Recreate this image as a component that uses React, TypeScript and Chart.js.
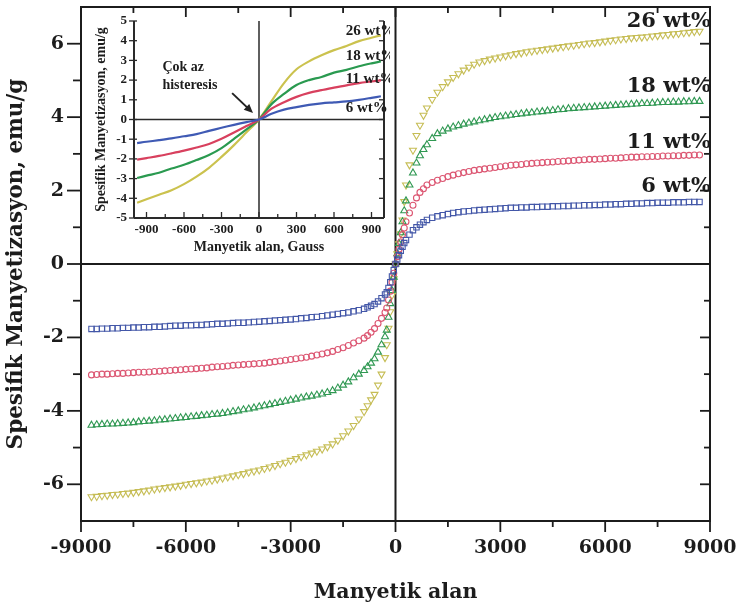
import React, { useEffect, useRef } from 'react';
import { Chart, registerables } from 'chart.js';

Chart.register(...registerables);

// ---------- main chart data (field in Gauss, magnetization in emu/g) ----------
const FIELD = [
  -8700, -8550, -8400, -8250, -8100, -7950, -7800, -7650, -7500, -7350,
  -7200, -7050, -6900, -6750, -6600, -6450, -6300, -6150, -6000, -5850,
  -5700, -5550, -5400, -5250, -5100, -4950, -4800, -4650, -4500, -4350,
  -4200, -4050, -3900, -3750, -3600, -3450, -3300, -3150, -3000, -2850,
  -2700, -2550, -2400, -2250, -2100, -1950, -1800, -1650, -1500, -1350, -1200,
  -1050, -900, -800, -700, -600, -500, -400, -300, -250, -200, -150, -100, -50,
  0,
  50, 100, 150, 200, 250, 300, 400, 500, 600, 700, 800, 900, 1050,
  1200, 1350, 1500, 1650, 1800, 1950, 2100, 2250, 2400, 2550,
  2700, 2850, 3000, 3150, 3300, 3450, 3600, 3750, 3900, 4050,
  4200, 4350, 4500, 4650, 4800, 4950, 5100, 5250, 5400, 5550,
  5700, 5850, 6000, 6150, 6300, 6450, 6600, 6750, 6900, 7050,
  7200, 7350, 7500, 7650, 7800, 7950, 8100, 8250, 8400, 8550, 8700,
];

const M6 = [
  -1.77, -1.77, -1.76, -1.76, -1.75, -1.75, -1.74, -1.74, -1.73, -1.73,
  -1.72, -1.72, -1.71, -1.71, -1.70, -1.69, -1.68, -1.68, -1.67, -1.67,
  -1.66, -1.66, -1.65, -1.64, -1.63, -1.63, -1.62, -1.61, -1.60, -1.60,
  -1.59, -1.58, -1.57, -1.56, -1.55, -1.54, -1.53, -1.52, -1.51, -1.50,
  -1.48, -1.47, -1.45, -1.44, -1.42, -1.40, -1.38, -1.36, -1.34, -1.32, -1.29,
  -1.26, -1.22, -1.18, -1.14, -1.09, -1.02, -0.93, -0.83, -0.77, -0.65, -0.50, -0.34, -0.17,
  0,
  0.12, 0.24, 0.36, 0.47, 0.57, 0.65, 0.80, 0.92, 1.00, 1.07, 1.14, 1.20, 1.26,
  1.30, 1.33, 1.36, 1.39, 1.41, 1.43, 1.44, 1.46, 1.47, 1.48,
  1.49, 1.50, 1.51, 1.52, 1.53, 1.53, 1.54, 1.54, 1.55, 1.55,
  1.56, 1.56, 1.57, 1.57, 1.58, 1.58, 1.59, 1.59, 1.60, 1.60,
  1.61, 1.61, 1.62, 1.62, 1.63, 1.63, 1.64, 1.64, 1.65, 1.65,
  1.66, 1.66, 1.67, 1.67, 1.67, 1.68, 1.68, 1.68, 1.69, 1.69, 1.69,
];

const M11 = [
  -3.02, -3.01, -3.00, -3.00, -2.99, -2.98, -2.98, -2.97, -2.96, -2.95,
  -2.95, -2.94, -2.93, -2.92, -2.91, -2.90, -2.89, -2.88, -2.87, -2.86,
  -2.85, -2.84, -2.83, -2.81, -2.80, -2.79, -2.78, -2.76, -2.75, -2.74,
  -2.73, -2.72, -2.71, -2.70, -2.68, -2.66, -2.64, -2.62, -2.60, -2.58,
  -2.56, -2.54, -2.51, -2.48, -2.45, -2.42, -2.38, -2.33, -2.28, -2.22, -2.15,
  -2.09, -2.02, -1.95, -1.86, -1.76, -1.62, -1.48, -1.32, -1.20, -0.98, -0.74, -0.50, -0.25,
  0,
  0.20, 0.40, 0.60, 0.80, 0.98, 1.15, 1.39, 1.60, 1.80, 1.95, 2.05, 2.15, 2.22,
  2.28, 2.33, 2.38, 2.42, 2.46, 2.49, 2.52, 2.55, 2.57, 2.59,
  2.61, 2.63, 2.65, 2.67, 2.69, 2.70, 2.71, 2.73, 2.74, 2.75,
  2.76, 2.77, 2.78, 2.79, 2.80, 2.81, 2.82, 2.83, 2.84, 2.85,
  2.85, 2.86, 2.87, 2.88, 2.88, 2.89, 2.90, 2.91, 2.91, 2.92,
  2.92, 2.93, 2.93, 2.94, 2.94, 2.95, 2.95, 2.96, 2.96, 2.97, 2.97,
];

const M18 = [
  -4.39, -4.38, -4.37, -4.36, -4.36, -4.35, -4.34, -4.33, -4.32, -4.30,
  -4.29, -4.28, -4.27, -4.25, -4.24, -4.22, -4.21, -4.19, -4.18, -4.16,
  -4.15, -4.13, -4.12, -4.10, -4.09, -4.07, -4.05, -4.02, -4.00, -3.97,
  -3.95, -3.92, -3.89, -3.86, -3.83, -3.80, -3.77, -3.74, -3.71, -3.68,
  -3.65, -3.62, -3.60, -3.57, -3.54, -3.50, -3.45, -3.38, -3.30, -3.21, -3.10,
  -3.00, -2.90, -2.80, -2.70, -2.58, -2.40, -2.20, -1.98, -1.80, -1.45, -1.08, -0.72, -0.36,
  0,
  0.28, 0.56, 0.85, 1.15, 1.45, 1.72, 2.15, 2.48, 2.75, 2.95, 3.12, 3.25, 3.42,
  3.55, 3.62, 3.68, 3.73, 3.77, 3.81, 3.84, 3.87, 3.90, 3.93,
  3.96, 3.99, 4.01, 4.03, 4.05, 4.07, 4.09, 4.11, 4.12, 4.14,
  4.15, 4.17, 4.18, 4.20, 4.21, 4.23, 4.24, 4.25, 4.26, 4.27,
  4.28, 4.29, 4.30, 4.31, 4.32, 4.33, 4.34, 4.35, 4.36, 4.37,
  4.37, 4.38, 4.39, 4.40, 4.40, 4.41, 4.41, 4.42, 4.42, 4.43, 4.43,
];

const M26 = [
  -6.34, -6.33, -6.31, -6.30, -6.28, -6.27, -6.25, -6.24, -6.22, -6.20,
  -6.18, -6.16, -6.13, -6.11, -6.09, -6.07, -6.05, -6.03, -6.00, -5.98,
  -5.96, -5.94, -5.91, -5.89, -5.86, -5.83, -5.80, -5.77, -5.74, -5.71,
  -5.67, -5.64, -5.61, -5.57, -5.53, -5.49, -5.44, -5.40, -5.35, -5.30,
  -5.25, -5.20, -5.15, -5.10, -5.04, -4.98, -4.90, -4.80, -4.68, -4.55, -4.40,
  -4.22, -4.02, -3.86, -3.70, -3.55, -3.30, -3.00, -2.55, -2.20, -1.75, -1.30, -0.85, -0.40,
  0,
  0.28, 0.55, 0.82, 1.20, 1.70, 2.15, 2.70, 3.10, 3.50, 3.78, 4.05, 4.25, 4.48,
  4.68, 4.83, 4.96, 5.08, 5.18, 5.28, 5.36, 5.44, 5.50, 5.54,
  5.58, 5.61, 5.64, 5.67, 5.70, 5.73, 5.75, 5.78, 5.80, 5.82,
  5.84, 5.86, 5.88, 5.90, 5.92, 5.94, 5.96, 5.98, 6.00, 6.02,
  6.03, 6.05, 6.07, 6.09, 6.11, 6.13, 6.14, 6.16, 6.17, 6.18,
  6.19, 6.21, 6.22, 6.24, 6.25, 6.27, 6.28, 6.30, 6.31, 6.33, 6.34,
];

const SERIES_NAMES = ['6 wt%', '11 wt%', '18 wt%', '26 wt%'];

const X_TICKS = [-9000, -6000, -3000, 0, 3000, 6000, 9000];
const X_MINOR = [-9000, -7500, -6000, -4500, -3000, -1500, 0, 1500, 3000, 4500, 6000, 7500, 9000];
const Y_TICKS = [-6, -4, -2, 0, 2, 4, 6];
const Y_MINOR = [-6, -5, -4, -3, -2, -1, 0, 1, 2, 3, 4, 5, 6];

// ---------- inset data ----------
const INSET_FIELD = [-975, -900, -800, -700, -600, -500, -400, -300, -200, -100, 0, 100, 200, 300, 400, 500, 600, 700, 800, 900, 975];
const I6 = [-1.20, -1.13, -1.05, -0.96, -0.85, -0.74, -0.58, -0.42, -0.27, -0.13, 0, 0.29, 0.50, 0.63, 0.74, 0.82, 0.87, 0.92, 1.00, 1.10, 1.18];
const I11 = [-2.04, -1.96, -1.85, -1.72, -1.58, -1.42, -1.24, -0.98, -0.66, -0.33, 0, 0.55, 0.88, 1.15, 1.35, 1.49, 1.62, 1.73, 1.85, 1.93, 1.99];
const I18 = [-2.97, -2.85, -2.70, -2.49, -2.30, -2.06, -1.80, -1.45, -0.98, -0.50, 0, 0.78, 1.30, 1.75, 2.00, 2.16, 2.38, 2.52, 2.70, 2.85, 2.95];
const I26 = [-4.23, -4.05, -3.82, -3.59, -3.28, -2.90, -2.45, -1.90, -1.30, -0.65, 0, 0.93, 1.85, 2.55, 2.95, 3.26, 3.52, 3.73, 3.98, 4.15, 4.27];

const INSET_X_TICKS = [-900, -600, -300, 0, 300, 600, 900];
const INSET_X_MINOR = [-900, -750, -600, -450, -300, -150, 0, 150, 300, 450, 600, 750, 900];
const INSET_Y_TICKS = [-5, -4, -3, -2, -1, 0, 1, 2, 3, 4, 5];

const NOTE_LINES = ['Çok az', 'histeresis'];

// ---------- styles ----------
const INK = '#1c1c1c';
const COLORS = ['#4357a8', '#dc5672', '#2f9852', '#c6bd55'];
const INSET_COLORS = ['#3f5ab4', '#d8405e', '#2a9a50', '#cbc24e'];
const MAIN_FONT = 'DejaVu Serif';
const INSET_FONT = 'Liberation Serif';

function line(ctx: CanvasRenderingContext2D, x1: number, y1: number, x2: number, y2: number) {
  ctx.beginPath();
  ctx.moveTo(x1, y1);
  ctx.lineTo(x2, y2);
  ctx.stroke();
}

function zeroPad(s: any) {
  s.paddingLeft = 0;
  s.paddingRight = 0;
  s.paddingTop = 0;
  s.paddingBottom = 0;
}

const mainDecor = {
  id: 'mainDecor',
  beforeDatasetsDraw(chart: any) {
    const { ctx, chartArea: a, scales } = chart;
    const x = scales.x, y = scales.y;
    ctx.save();
    ctx.strokeStyle = INK;
    ctx.lineWidth = 2;
    const x0 = x.getPixelForValue(0);
    const y0 = y.getPixelForValue(0);
    line(ctx, x0, a.top, x0, a.bottom);
    line(ctx, a.left, y0, a.right, y0);
    ctx.strokeRect(a.left, a.top, a.right - a.left, a.bottom - a.top);
    ctx.lineWidth = 1.8;
    for (const v of X_MINOR) {
      const px = x.getPixelForValue(v);
      const major = X_TICKS.includes(v);
      line(ctx, px, a.bottom, px, a.bottom + (major ? 11 : 6));
      line(ctx, px, a.top, px, a.top + (major ? 10 : 6));
    }
    for (const v of Y_MINOR) {
      const py = y.getPixelForValue(v);
      const major = Y_TICKS.includes(v);
      line(ctx, a.left - (major ? 14 : 8), py, a.left, py);
      line(ctx, a.right - (major ? 10 : 6), py, a.right, py);
    }
    ctx.restore();
  },
  afterDatasetsDraw(chart: any) {
    const { ctx, scales } = chart;
    const x = scales.x, y = scales.y;
    const anchorsY = [1.96, 3.16, 4.69, 6.46];
    ctx.save();
    ctx.fillStyle = INK;
    ctx.font = `bold 21px "${MAIN_FONT}"`;
    ctx.textAlign = 'right';
    ctx.textBaseline = 'alphabetic';
    SERIES_NAMES.forEach((name, i) => {
      ctx.fillText(name, x.getPixelForValue(9000) + 1, y.getPixelForValue(anchorsY[i]));
    });
    ctx.restore();
  },
};

const insetDecor = {
  id: 'insetDecor',
  beforeDatasetsDraw(chart: any) {
    const { ctx, chartArea: a, scales } = chart;
    const x = scales.x, y = scales.y;
    ctx.save();
    ctx.strokeStyle = '#2a2a2a';
    ctx.lineWidth = 1.5;
    const x0 = x.getPixelForValue(0);
    const y0 = y.getPixelForValue(0);
    line(ctx, x0, a.top, x0, a.bottom);
    line(ctx, a.left, y0, a.right, y0);
    ctx.lineWidth = 2;
    line(ctx, a.left, a.top, a.left, a.bottom);
    line(ctx, a.left, a.bottom, a.right, a.bottom);
    line(ctx, a.right, a.top, a.right, a.bottom);
    ctx.lineWidth = 1.3;
    for (const v of INSET_Y_TICKS) {
      const py = y.getPixelForValue(v);
      line(ctx, a.left - 5, py, a.left + 3, py);
      line(ctx, a.right - 5, py, a.right, py);
    }
    for (const v of INSET_X_MINOR) {
      const px = x.getPixelForValue(v);
      const major = INSET_X_TICKS.includes(v);
      line(ctx, px, a.bottom, px, a.bottom - (major ? 6 : 4));
    }
    ctx.restore();
  },
  afterDatasetsDraw(chart: any) {
    const { ctx, scales } = chart;
    const x = scales.x, y = scales.y;
    const anchorsY = [0.38, 1.85, 3.01, 4.28];
    ctx.save();
    ctx.fillStyle = INK;
    ctx.font = `bold 15px "${INSET_FONT}"`;
    ctx.textAlign = 'left';
    ctx.textBaseline = 'alphabetic';
    SERIES_NAMES.forEach((name, i) => {
      ctx.fillText(name, x.getPixelForValue(693), y.getPixelForValue(anchorsY[i]));
    });
    ctx.font = `bold 14px "${INSET_FONT}"`;
    ctx.fillText(NOTE_LINES[0], x.getPixelForValue(-773), y.getPixelForValue(2.46));
    ctx.fillText(NOTE_LINES[1], x.getPixelForValue(-773), y.getPixelForValue(1.54));
    const tx = x.getPixelForValue(-215), ty = y.getPixelForValue(1.34);
    const hx = x.getPixelForValue(-48), hy = y.getPixelForValue(0.33);
    const ang = Math.atan2(hy - ty, hx - tx);
    ctx.strokeStyle = '#222';
    ctx.lineWidth = 2;
    line(ctx, tx, ty, hx - 6 * Math.cos(ang), hy - 6 * Math.sin(ang));
    ctx.fillStyle = '#222';
    ctx.beginPath();
    ctx.moveTo(hx, hy);
    ctx.lineTo(hx - 9 * Math.cos(ang) + 4 * Math.sin(ang), hy - 9 * Math.sin(ang) - 4 * Math.cos(ang));
    ctx.lineTo(hx - 9 * Math.cos(ang) - 4 * Math.sin(ang), hy - 9 * Math.sin(ang) + 4 * Math.cos(ang));
    ctx.closePath();
    ctx.fill();
    ctx.restore();
  },
};

function mainConfig(): any {
  const seriesValues = [M6, M11, M18, M26];
  const styles = [
    { pointStyle: 'rect', radius: 3.8, rotation: 0 },
    { pointStyle: 'circle', radius: 3, rotation: 0 },
    { pointStyle: 'triangle', radius: 4, rotation: 0 },
    { pointStyle: 'triangle', radius: 4, rotation: 180 },
  ];
  const tickFont = { family: MAIN_FONT, weight: 'bold', size: 19 };
  const titleFont = { family: MAIN_FONT, weight: 'bold', size: 20.5 };
  const yTitleFont = { family: MAIN_FONT, weight: 'bold', size: 21.5 };
  return {
    type: 'scatter',
    data: {
      datasets: seriesValues.map((vals, i) => ({
        label: SERIES_NAMES[i],
        data: FIELD.map((f, j) => ({ x: f, y: vals[j] })),
        showLine: false,
        pointStyle: styles[i].pointStyle,
        pointRadius: styles[i].radius,
        pointRotation: styles[i].rotation,
        pointBorderColor: COLORS[i],
        pointBackgroundColor: 'rgba(255,255,255,0)',
        pointBorderWidth: 1.1,
        borderColor: COLORS[i],
        backgroundColor: 'rgba(255,255,255,0)',
      })),
    },
    options: {
      animation: false,
      responsive: false,
      devicePixelRatio: 1,
      layout: { padding: { top: 7, right: 29, left: 0, bottom: 0 } },
      plugins: { legend: { display: false }, tooltip: { enabled: false } },
      scales: {
        x: {
          type: 'linear',
          min: -9000,
          max: 9000,
          grid: { display: false, drawTicks: false },
          border: { display: false },
          afterBuildTicks: (s: any) => { s.ticks = X_TICKS.map((v) => ({ value: v })); },
          afterFit: (s: any) => { s.height = 87; zeroPad(s); },
          ticks: {
            callback: (v: any) => String(v),
            padding: 16,
            autoSkip: false,
            maxRotation: 0,
            color: INK,
            font: tickFont,
          },
          title: { display: true, text: 'Manyetik alan', color: INK, font: titleFont, padding: { top: 0, bottom: 3 } },
        },
        y: {
          type: 'linear',
          min: -7,
          max: 7,
          grid: { display: false, drawTicks: false },
          border: { display: false },
          afterBuildTicks: (s: any) => { s.ticks = Y_TICKS.map((v) => ({ value: v })); },
          afterFit: (s: any) => { s.width = 81; zeroPad(s); },
          ticks: {
            callback: (v: any) => String(v),
            padding: 17,
            color: INK,
            font: tickFont,
          },
          title: { display: true, text: 'Spesifik Manyetizasyon, emu/g', color: INK, font: yTitleFont, padding: { top: 4, bottom: 0 } },
        },
      },
    },
    plugins: [mainDecor],
  };
}

function insetConfig(): any {
  const seriesValues = [I6, I11, I18, I26];
  const tickFont = { family: INSET_FONT, weight: 'bold', size: 13 };
  const titleFont = { family: INSET_FONT, weight: 'bold', size: 14 };
  return {
    type: 'line',
    data: {
      datasets: seriesValues.map((vals, i) => ({
        label: SERIES_NAMES[i],
        data: INSET_FIELD.map((f, j) => ({ x: f, y: vals[j] })),
        borderColor: INSET_COLORS[i],
        backgroundColor: 'rgba(0,0,0,0)',
        borderWidth: 2.2,
        pointRadius: 0,
        tension: 0.35,
        fill: false,
      })),
    },
    options: {
      animation: false,
      responsive: false,
      devicePixelRatio: 1,
      layout: { padding: { top: 13, right: 6, left: 0, bottom: 0 } },
      plugins: { legend: { display: false }, tooltip: { enabled: false } },
      scales: {
        x: {
          type: 'linear',
          min: -1000,
          max: 1000,
          grid: { display: false, drawTicks: false },
          border: { display: false },
          afterBuildTicks: (s: any) => { s.ticks = INSET_X_TICKS.map((v) => ({ value: v })); },
          afterFit: (s: any) => { s.height = 42; zeroPad(s); },
          ticks: { callback: (v: any) => String(v), padding: 4, autoSkip: false, maxRotation: 0, color: INK, font: tickFont },
          title: { display: true, text: 'Manyetik alan, Gauss', color: INK, font: titleFont, padding: { top: 0, bottom: 4 } },
        },
        y: {
          type: 'linear',
          min: -5,
          max: 5,
          grid: { display: false, drawTicks: false },
          border: { display: false },
          afterBuildTicks: (s: any) => { s.ticks = INSET_Y_TICKS.map((v) => ({ value: v })); },
          afterFit: (s: any) => { s.width = 44; zeroPad(s); },
          ticks: { callback: (v: any) => String(v), padding: 7, color: INK, font: tickFont },
          title: { display: true, text: 'Spesifik Manyetizasyon, emu/g', color: INK, font: titleFont, padding: { top: 3, bottom: 0 } },
        },
      },
    },
    plugins: [insetDecor],
  };
}

export default function App() {
  const mainRef = useRef<HTMLCanvasElement>(null);
  const insetRef = useRef<HTMLCanvasElement>(null);
  useEffect(() => {
    const main = new Chart(mainRef.current as HTMLCanvasElement, mainConfig());
    const inset = new Chart(insetRef.current as HTMLCanvasElement, insetConfig());
    return () => {
      main.destroy();
      inset.destroy();
    };
  }, []);
  return (
    <div style={{ position: 'absolute', left: 0, top: 0, width: 739, height: 608, background: '#fff', overflow: 'hidden' }}>
      <canvas ref={mainRef} width={739} height={608} style={{ position: 'absolute', left: 0, top: 0 }} />
      <canvas ref={insetRef} width={300} height={252} style={{ position: 'absolute', left: 90, top: 8 }} />
    </div>
  );
}
